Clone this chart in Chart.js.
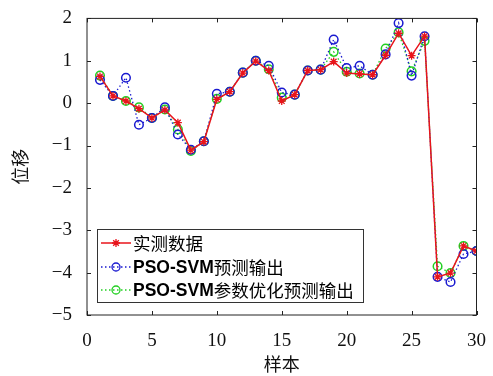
<!DOCTYPE html>
<html>
<head>
<meta charset="utf-8">
<script src="https://cdn.jsdelivr.net/npm/chart.js@4/dist/chart.umd.min.js"></script>
<style>
  html, body { margin: 0; padding: 0; background: #fff; }
  #wrap { width: 493px; height: 376px; position: relative; }
</style>
</head>
<body>
<div id="wrap"><canvas id="c"></canvas></div>
<script>
const samples = [1,2,3,4,5,6,7,8,9,10,11,12,13,14,15,16,17,18,19,20,21,22,23,24,25,26,27,28,29,30];
const measured = [0.63,0.17,0.05,-0.13,-0.35,-0.16,-0.46,-1.11,-0.91,0.09,0.27,0.71,0.99,0.77,0.05,0.2,0.77,0.79,0.98,0.71,0.69,0.67,1.13,1.65,1.12,1.58,-4.1,-4.01,-3.37,-3.49];
const psoSvm = [0.55,0.17,0.6,-0.51,-0.35,-0.1,-0.74,-1.1,-0.9,0.22,0.27,0.72,1.0,0.88,0.25,0.2,0.77,0.79,1.5,0.83,0.88,0.67,1.15,1.89,0.65,1.58,-4.1,-4.22,-3.56,-3.49];
const psoSvmOpt = [0.65,0.17,0.05,-0.1,-0.35,-0.15,-0.62,-1.13,-0.9,0.1,0.27,0.72,1.0,0.8,0.13,0.2,0.77,0.79,1.21,0.74,0.7,0.67,1.29,1.67,0.75,1.47,-3.85,-4.01,-3.37,-3.49];
const seriesNames = ['实测数据', 'PSO-SVM预测输出', 'PSO-SVM参数优化预测输出'];
const xTicks = [0,5,10,15,20,25,30];
const yTicks = [-5,-4,-3,-2,-1,0,1,2];

const serif = '"Liberation Serif", "Times New Roman", serif';
const cjk = '"Noto Sans CJK SC", sans-serif';

// MATLAB-like box with inward ticks plus the legend inside the axes
const boxPlugin = {
  id: 'box',
  afterDraw(chart) {
    const ctx = chart.ctx;
    const a = chart.chartArea;
    const xs = chart.scales.x, ys = chart.scales.y;
    ctx.save();
    ctx.strokeStyle = '#222';
    ctx.lineWidth = 1;
    ctx.strokeRect(a.left, a.top, a.right - a.left, a.bottom - a.top);
    ctx.beginPath();
    xTicks.forEach(v => {
      const px = Math.round(xs.getPixelForValue(v)) + 0.5;
      ctx.moveTo(px, a.bottom); ctx.lineTo(px, a.bottom - 4);
      ctx.moveTo(px, a.top); ctx.lineTo(px, a.top + 4);
    });
    yTicks.forEach(v => {
      const py = Math.round(ys.getPixelForValue(v)) + 0.5;
      ctx.moveTo(a.left, py); ctx.lineTo(a.left + 4, py);
      ctx.moveTo(a.right, py); ctx.lineTo(a.right - 4, py);
    });
    ctx.stroke();

    // legend
    const lx = 97, ly = 229, lw = 266, lh = 73;
    ctx.fillStyle = '#fff';
    ctx.fillRect(lx, ly, lw, lh);
    ctx.strokeStyle = '#333';
    ctx.strokeRect(lx + 0.5, ly + 0.5, lw, lh);
    const rows = [243, 267, 290];
    chart.data.datasets.forEach((ds, i) => {
      const y = rows[i];
      ctx.strokeStyle = ds.borderColor;
      ctx.lineWidth = ds.borderWidth;
      ctx.setLineDash(ds.borderDash || []);
      ctx.beginPath(); ctx.moveTo(101, y); ctx.lineTo(131, y); ctx.stroke();
      ctx.setLineDash([]);
      ctx.lineWidth = 1.3;
      ctx.beginPath();
      if (ds.pointStyle === 'star') {
        for (let k = 0; k < 4; k++) {
          const ang = k * Math.PI / 4;
          ctx.moveTo(116 - 4 * Math.cos(ang), y - 4 * Math.sin(ang));
          ctx.lineTo(116 + 4 * Math.cos(ang), y + 4 * Math.sin(ang));
        }
      } else {
        ctx.arc(116, y, 4, 0, Math.PI * 2);
      }
      ctx.stroke();
      ctx.fillStyle = '#000';
      ctx.textBaseline = 'middle';
      const name = ds.label;
      let x = 133;
      if (name.startsWith('PSO-SVM')) {
        ctx.font = 'bold 17.5px "Liberation Sans", Arial, sans-serif';
        ctx.fillText('PSO-SVM', x, y + 1);
        x += ctx.measureText('PSO-SVM').width;
        ctx.font = '17.5px ' + cjk;
        ctx.fillText(name.slice(7), x, y);
      } else {
        ctx.font = '17.5px ' + cjk;
        ctx.fillText(name, x, y);
      }
    });
    ctx.restore();
  }
};

new Chart(document.getElementById('c'), {
  type: 'line',
  data: {
    datasets: [
      {
        label: seriesNames[0],
        data: samples.map((s, i) => ({ x: s, y: measured[i] })),
        borderColor: '#e8141b',
        borderWidth: 1.5,
        pointStyle: 'star',
        pointRadius: 4,
        pointBorderColor: '#e8141b',
        pointBorderWidth: 1.3,
        tension: 0
      },
      {
        label: seriesNames[1],
        data: samples.map((s, i) => ({ x: s, y: psoSvm[i] })),
        borderColor: '#1a1ad0',
        borderWidth: 1.3,
        borderDash: [1.5, 2.5],
        pointStyle: 'circle',
        pointRadius: 4.3,
        pointBackgroundColor: 'rgba(0,0,0,0)',
        pointBorderColor: '#1a1ad0',
        pointBorderWidth: 1.5,
        tension: 0
      },
      {
        label: seriesNames[2],
        data: samples.map((s, i) => ({ x: s, y: psoSvmOpt[i] })),
        borderColor: '#22d022',
        borderWidth: 1.3,
        borderDash: [1.5, 2.5],
        pointStyle: 'circle',
        pointRadius: 4.3,
        pointBackgroundColor: 'rgba(0,0,0,0)',
        pointBorderColor: '#22d022',
        pointBorderWidth: 1.5,
        tension: 0
      }
    ]
  },
  options: {
    responsive: true,
    maintainAspectRatio: false,
    animation: false,
    layout: { padding: { left: 0, right: 8, top: 13, bottom: 0 } },
    plugins: { legend: { display: false }, tooltip: { enabled: false } },
    scales: {
      x: {
        type: 'linear',
        min: 0, max: 30,
        afterFit: s => { s.height = 61; },
        afterBuildTicks: s => { s.ticks = xTicks.map(v => ({ value: v })); },
        grid: { display: false },
        border: { display: false },
        ticks: { color: '#111', padding: 7, maxRotation: 0, font: { family: serif, size: 19 } },
        title: { display: true, text: '样本', color: '#111', padding: { top: 0, bottom: 1 }, font: { family: cjk, size: 18 } }
      },
      y: {
        min: -5, max: 2,
        afterFit: s => { s.width = 87; },
        afterBuildTicks: s => { s.ticks = yTicks.map(v => ({ value: v })); },
        grid: { display: false },
        border: { display: false },
        ticks: {
          color: '#111', padding: 7, font: { family: serif, size: 19 },
          callback: v => v < 0 ? '\u2212' + Math.abs(v) : String(v)
        },
        title: { display: true, text: '位移', color: '#111', padding: { top: 9, bottom: 0 }, font: { family: cjk, size: 18 } }
      }
    }
  },
  plugins: [boxPlugin]
});
</script>
</body>
</html>
